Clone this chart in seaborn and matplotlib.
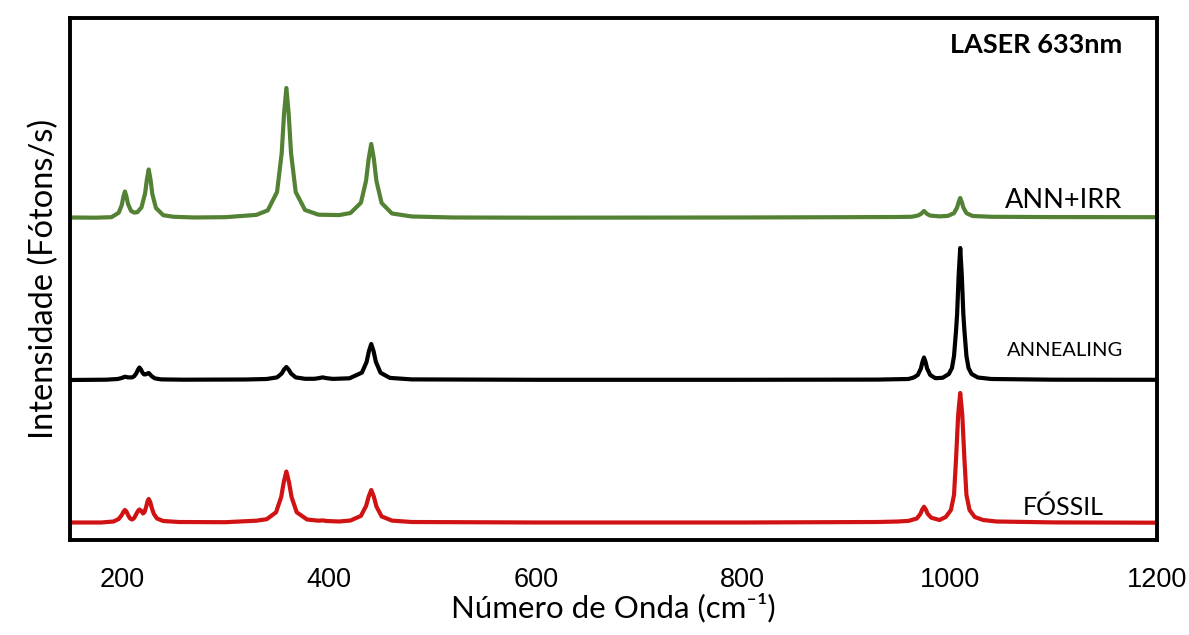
import matplotlib
matplotlib.use("Agg")
import matplotlib.pyplot as plt
import seaborn as sns
import pandas as pd

# Raman spectra: (wavenumber cm-1, intensity in arbitrary units)
fossil = [(150, 0.5), (180, 0.5), (192, 1.5), (197, 4), (200, 8), (201.5, 11), (203, 13), (204.5, 11.5),
          (206, 8), (208, 4.5), (210, 3.5), (212, 5), (214.5, 10), (216, 12.5), (217, 13.5), (218.5, 12.5),
          (220.5, 9.5), (222, 11), (223.5, 16), (225, 22), (226, 24), (227.5, 21), (229, 15), (231, 9),
          (234, 4.5), (240, 2), (255, 1), (300, 0.8), (330, 2.3), (340, 3.8), (349, 10.7), (354, 26),
          (356.5, 41), (359, 51.5), (361.5, 41), (364, 26), (369, 10.7), (379, 3.5), (390, 2.3), (394, 2.6),
          (398, 2), (410, 1.5), (421, 2.5), (431, 7.1), (436, 17), (438.5, 26.4), (441, 33), (443.5, 26.4),
          (446, 16.5), (451, 6.6), (461, 2.4), (480, 1), (600, 0.5), (800, 0.5), (930, 1), (950, 1.5),
          (960, 2.1), (968, 4.5), (971.5, 9), (973.25, 13.4), (975, 16.3), (976.75, 13.5), (978.5, 9.3),
          (982, 5.3), (990, 3), (996, 6), (1001, 13), (1004, 28), (1006, 65), (1008, 108), (1010, 130),
          (1012, 108), (1014, 65), (1016, 28), (1019, 13), (1024, 6), (1032, 3), (1045, 1.5), (1100, 0.6),
          (1200, 0.3)]

annealing = [(150, 0), (185, 0.3), (196, 1), (200, 2), (203, 3.3), (206, 2.6), (210, 2.6), (212, 3.8),
             (214, 6.6), (215.5, 10), (217, 12.5), (218.5, 10.5), (220, 7.3), (221.5, 5.6), (223, 5.6),
             (226, 7), (229, 3.7), (232, 1.6), (238, 0.6), (260, 0.3), (320, 0.5), (340, 1.0), (350, 2.6),
             (354.5, 6.5), (356.75, 10.4), (359, 13), (361.25, 10.4), (363.5, 6.5), (368, 2.6), (377, 1.2),
             (386, 1.2), (390, 1.8), (394, 2.6), (398, 1.8), (404, 1.1), (420, 1.7), (432, 7.4), (436.5, 18),
             (438.75, 28.8), (441, 36), (443.25, 28.8), (445.5, 18), (450, 7.2), (459, 2.1), (480, 0.6),
             (600, 0.2), (800, 0.2), (930, 0.4), (960, 1), (965, 2.5), (969, 5), (972, 11.5), (973.5, 18),
             (975, 22.5), (976.5, 18), (978, 11.5), (981, 5), (986, 1.8), (993, 2.2), (999, 6), (1002, 12),
             (1004, 24), (1006, 50), (1007, 66), (1008.5, 105), (1010, 132), (1011.5, 105), (1013, 66),
             (1014, 50), (1016, 24), (1018, 12), (1021, 6), (1027, 2.5), (1040, 1), (1100, 0.3), (1200, 0.2)]

ann_irr = [(150, 0.5), (175, 0.3), (190, 0.8), (197, 5.2), (200, 13), (201.5, 21), (203, 26.5), (204.5, 21.5),
           (206, 14), (209, 7), (212, 5.4), (215, 5.8), (219, 10.5), (222.5, 24.5), (224.25, 38.5), (226, 48.5),
           (227.75, 38.5), (229.5, 24), (233, 10), (240, 2.8), (250, 1.2), (270, 0.5), (300, 0.8), (330, 3.1),
           (341, 7.6), (350, 26), (354.5, 65), (356.75, 104), (359, 130), (361.25, 104), (363.5, 65), (368, 26),
           (377, 8), (390, 3.3), (410, 2.9), (421, 5), (431, 15.2), (436, 37.3), (438.5, 59.2), (441, 74),
           (443.5, 59.2), (446, 37), (451, 15), (461, 4.5), (480, 1.5), (520, 0.5), (600, 0.3), (800, 0.5),
           (900, 0.8), (950, 1.0), (963, 1.2), (969, 2.4), (972, 4), (975, 7), (978, 4), (981, 2.4), (990, 1.6),
           (998, 2.1), (1004, 4.8), (1007, 10.5), (1008.5, 16), (1010, 20), (1011.5, 16), (1013, 10.5),
           (1016, 4.8), (1022, 2), (1040, 1.2), (1100, 0.9), (1200, 0.8)]

samples = ["FÓSSIL", "ANNEALING", "ANN+IRR"]
offsets = [17, 160, 322]
xticks = [200, 400, 600, 800, 1000, 1200]

frames = []
for name, spec, off in zip(samples, [fossil, annealing, ann_irr], offsets):
    df = pd.DataFrame(spec, columns=["wavenumber", "intensity"])
    df["intensity"] = df["intensity"] + off
    df["sample"] = name
    frames.append(df)
data = pd.concat(frames, ignore_index=True)

sns.set_style("white")
plt.rcParams["font.family"] = ["Lato", "DejaVu Sans"]
plt.rcParams["text.color"] = "black"
plt.rcParams["axes.labelcolor"] = "black"
plt.rcParams["xtick.color"] = "black"

fig = plt.figure(figsize=(11.89, 6.35), dpi=100)
ax = fig.add_axes([0.0589, 0.1496, 0.9141, 0.8221])

palette = {"FÓSSIL": "#d01212", "ANNEALING": "#000000", "ANN+IRR": "#548235"}
sns.lineplot(data=data, x="wavenumber", y="intensity", hue="sample", palette=palette,
             sort=False, estimator=None, linewidth=3.0, legend=False, ax=ax)

ax.set_xlim(150, 1200)
ax.set_ylim(0, 522)
ax.set_xticks(xticks)
ax.set_yticks([])
arial = ["Liberation Sans", "DejaVu Sans"]
ax.set_xticklabels([str(t) for t in xticks], family=arial, fontsize=19.5)
ax.tick_params(axis="x", direction="out", length=9.5, width=2.2, pad=10)
for s in ax.spines.values():
    s.set_linewidth(2.8)
    s.set_color("black")

ax.set_xlabel("Número de Onda (cm⁻¹)", fontsize=22.5, labelpad=0)
ax.set_ylabel("Intensidade (Fótons/s)", fontsize=23.5, labelpad=8)

ax.text(1000, 495, "LASER 633nm", fontsize=19.5, fontweight="bold", va="center", ha="left")
ax.text(1053, 339, "ANN+IRR", fontsize=19.5, va="center", ha="left")
ax.text(1055, 189, "ANNEALING", fontsize=14.5, va="center", ha="left")
ax.text(1070, 33, "FÓSSIL", fontsize=18, va="center", ha="left")

fig.savefig("out.png", dpi=100)
